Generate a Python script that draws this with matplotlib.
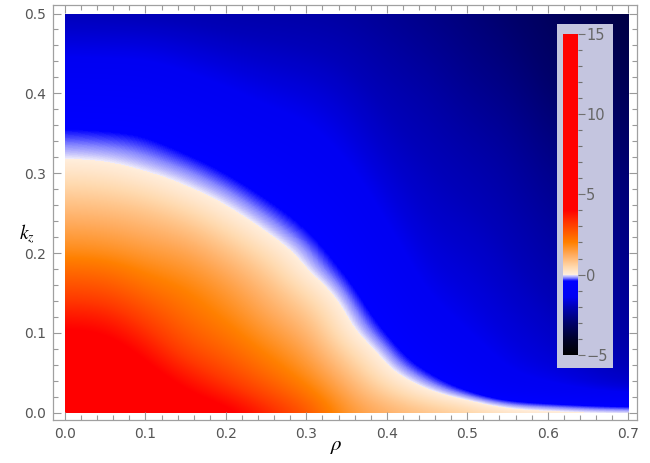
import numpy as np
import matplotlib.pyplot as plt
from matplotlib.colors import LinearSegmentedColormap, Normalize
from matplotlib.patches import Rectangle
from matplotlib.ticker import MultipleLocator

plt.rcParams["mathtext.fontset"] = "stix"

# grid of the density plot
rho = np.linspace(0.0, 0.7, 15)
kz = np.linspace(0.0, 0.5, 21)

# one list per rho column, bottom (kz=0) to top (kz=0.5)
field = [
    [5.5, 5.2, 4.85, 4.5, 4.1, 3.6, 3.0, 2.45, 1.85, 1.45, 1.05, 0.65, 0.25, -0.1, -0.34, -0.6, -0.87, -1.15, -1.45, -1.73, -2.0],       # 0.00
    [5.4, 5.1, 4.8, 4.45, 4.05, 3.55, 2.95, 2.4, 1.8, 1.4, 1.0, 0.6, 0.2, -0.13, -0.37, -0.63, -0.9, -1.18, -1.47, -1.75, -2.03],       # 0.05
    [5.0, 4.7, 4.3, 3.9, 3.4, 2.9, 2.4, 1.95, 1.55, 1.2, 0.85, 0.42, 0.0, -0.22, -0.42, -0.66, -0.93, -1.2, -1.48, -1.77, -2.06],      # 0.10
    [4.6, 4.1, 3.6, 3.0, 2.6, 2.3, 2.05, 1.72, 1.4, 1.0, 0.55, 0.08, -0.16, -0.4, -0.64, -0.88, -1.12, -1.38, -1.62, -1.86, -2.1],     # 0.15
    [4.3, 3.6, 3.0, 2.55, 2.2, 1.88, 1.6, 1.3, 0.92, 0.5, 0.08, -0.16, -0.4, -0.64, -0.88, -1.1, -1.33, -1.55, -1.77, -1.97, -2.15],   # 0.20
    [3.6, 2.9, 2.35, 1.95, 1.6, 1.3, 1.05, 0.72, 0.35, -0.03, -0.25, -0.47, -0.7, -0.92, -1.13, -1.33, -1.52, -1.7, -1.87, -2.03, -2.2],  # 0.25
    [2.8, 2.2, 1.75, 1.45, 1.15, 0.8, 0.4, 0.0, -0.18, -0.36, -0.55, -0.75, -0.95, -1.13, -1.3, -1.46, -1.62, -1.78, -1.94, -2.08, -2.22],  # 0.30
    [1.6, 1.3, 0.95, 0.5, 0.09, -0.08, -0.25, -0.42, -0.6, -0.78, -0.96, -1.13, -1.3, -1.45, -1.58, -1.7, -1.82, -1.94, -2.05, -2.17, -2.3],  # 0.35
    [1.2, 0.6, 0.05, -0.18, -0.4, -0.62, -0.83, -1.03, -1.2, -1.36, -1.5, -1.62, -1.73, -1.83, -1.92, -2.0, -2.08, -2.17, -2.26, -2.36, -2.46],  # 0.40
    [0.9, 0.05, -0.38, -0.75, -1.05, -1.28, -1.45, -1.57, -1.66, -1.74, -1.82, -1.88, -1.94, -2.0, -2.07, -2.14, -2.22, -2.32, -2.42, -2.52, -2.62],  # 0.45
    [0.7, -0.38, -0.9, -1.2, -1.4, -1.52, -1.6, -1.68, -1.76, -1.84, -1.92, -2.0, -2.08, -2.17, -2.27, -2.37, -2.47, -2.56, -2.64, -2.72, -2.8],  # 0.50
    [0.4, -1.0, -1.4, -1.55, -1.65, -1.72, -1.8, -1.88, -1.95, -2.02, -2.1, -2.18, -2.25, -2.33, -2.42, -2.52, -2.62, -2.72, -2.82, -2.9, -3.0],  # 0.55
    [0.35, -1.2, -1.55, -1.7, -1.8, -1.9, -2.0, -2.1, -2.2, -2.28, -2.37, -2.46, -2.55, -2.65, -2.75, -2.85, -2.95, -3.02, -3.08, -3.14, -3.2],  # 0.60
    [0.3, -1.45, -1.75, -1.95, -2.05, -2.15, -2.25, -2.35, -2.42, -2.5, -2.58, -2.66, -2.74, -2.84, -2.94, -3.04, -3.14, -3.22, -3.3, -3.37, -3.43],  # 0.65
    [0.3, -1.65, -1.95, -2.15, -2.3, -2.4, -2.48, -2.57, -2.65, -2.72, -2.8, -2.85, -2.92, -3.02, -3.12, -3.23, -3.33, -3.42, -3.5, -3.56, -3.62],  # 0.70
]

# colour scheme of the legend bar
vmin, vmax = -5, 15
cmap_levels = [-5, -4, -3, -2, -1.4, -0.4, -0.2, -0.001, 0, 0.45, 1.2, 2.0, 3.2, 4.0, 15]
cmap_colors = ["#000000", "#00002b", "#00006b", "#0000b8", "#0000f2", "#0000ff", "#8a8aff", "#f2eefa",
               "#ffeedd", "#ffdab0", "#ffad61", "#ff8000", "#ff3800", "#ff0000", "#ff0000"]
bar_ticks = [-5, 0, 5, 10, 15]

cmap = LinearSegmentedColormap.from_list(
    "mma", list(zip([(v - vmin) / (vmax - vmin) for v in cmap_levels], cmap_colors)), N=2048)
norm = Normalize(vmin, vmax)

Z = np.array(field).T
drho = rho[1] - rho[0]
dkz = kz[1] - kz[0]

fig = plt.figure(figsize=(6.5, 4.63), dpi=100)
ax = fig.add_axes([0.0815, 0.0929, 0.8985, 0.8969])
im = ax.imshow(Z, origin="lower", cmap=cmap, norm=norm, aspect="auto",
               extent=[rho[0] - drho / 2, rho[-1] + drho / 2, kz[0] - dkz / 2, kz[-1] + dkz / 2],
               interpolation="bicubic", interpolation_stage="data")
im.set_clip_path(Rectangle((rho[0], kz[0]), rho[-1] - rho[0], kz[-1] - kz[0], transform=ax.transData))

ax.set_xlim(-0.015, 0.711)
ax.set_ylim(-0.009, 0.511)
ax.set_xticks(np.arange(0, 0.71, 0.1))
ax.set_yticks(np.arange(0, 0.51, 0.1))
ax.xaxis.set_minor_locator(MultipleLocator(0.02))
ax.yaxis.set_minor_locator(MultipleLocator(0.02))
ax.xaxis.set_major_formatter(plt.FormatStrFormatter("%.1f"))
ax.yaxis.set_major_formatter(plt.FormatStrFormatter("%.1f"))
ax.tick_params(which="both", direction="in", top=True, right=True, color="#9a9a9a",
               labelcolor="#555555", labelsize=10, width=0.8)
ax.tick_params(which="major", length=6, pad=5)
ax.tick_params(which="minor", length=3.5)
for s in ax.spines.values():
    s.set_color("#a0a0a0")
    s.set_linewidth(0.9)

ax.set_xlabel(r"$\rho$", fontsize=15, va="center")
ax.xaxis.set_label_coords(0.486, -0.063)
ax.set_ylabel(r"$k_z$", fontsize=14, rotation=0, va="center", ha="center")
ax.yaxis.set_label_coords(-0.045, 0.447)

# legend box with the colour bar
box = fig.add_axes([0.8563, 0.2058, 0.0868, 0.7434])
box.set_facecolor("#c4c5df")
box.set_xticks([])
box.set_yticks([])
for s in box.spines.values():
    s.set_visible(False)

cax = fig.add_axes([0.8655, 0.2333, 0.0234, 0.6942])
cb = fig.colorbar(im, cax=cax, ticks=bar_ticks)
cb.ax.yaxis.set_minor_locator(MultipleLocator(1))
cb.outline.set_visible(False)
cax.tick_params(which="both", direction="out", color="#707070", labelcolor="#666666",
                labelsize=10.5, width=0.8)
cax.tick_params(which="major", length=5, pad=1)
cax.tick_params(which="minor", length=3)

fig.savefig("out.png", dpi=100)
